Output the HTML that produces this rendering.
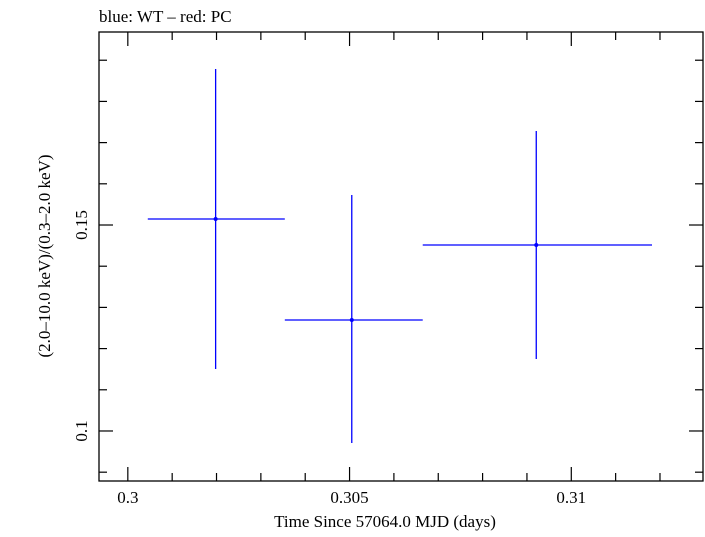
<!DOCTYPE html>
<html><head><meta charset="utf-8"><style>
body{margin:0;background:#fff;}
svg text{font-family:"Liberation Serif",serif;fill:#000;}
</style></head><body>
<svg id="chart" width="705" height="532" xmlns="http://www.w3.org/2000/svg">
<text x="99" y="22" font-size="17">blue: WT – red: PC</text>
<rect x="99" y="32" width="604" height="449" fill="none" stroke="#000" stroke-width="1.3"/>
<g id="ticks"></g>
<g id="marks"></g>
<text x="385" y="527" font-size="17" text-anchor="middle">Time Since 57064.0 MJD (days)</text>
<text transform="translate(50,256) rotate(-90)" font-size="17" text-anchor="middle">(2.0–10.0 keV)/(0.3–2.0 keV)</text>
</svg>
<script>
const xVals=[0.30198,0.30505,0.30921];
const xLo=[0.30045,0.30354,0.30665];
const xHi=[0.30354,0.30665,0.31182];
const yVals=[0.15146,0.12694,0.14515];
const yLo=[0.11505,0.09709,0.11748];
const yHi=[0.18786,0.15728,0.17282];
const xTickLabels=["0.3","0.305","0.31"];
const yTickLabels=["0.1","0.15"];
const X0=99,X1=703,Y0=32,Y1=481;
const xMin=0.29935,xMax=0.31297,yMin=0.08786,yMax=0.19685;
const sx=v=>X0+(v-xMin)/(xMax-xMin)*(X1-X0);
const sy=v=>Y1-(v-yMin)/(yMax-yMin)*(Y1-Y0);
const NS="http://www.w3.org/2000/svg";
function el(t,a,p){const e=document.createElementNS(NS,t);for(const k in a)e.setAttribute(k,a[k]);p.appendChild(e);return e;}
const tk=document.getElementById('ticks');
for(let i=0;i<=12;i++){const v=0.3+i*0.001;if(v>xMax)break;const x=sx(v);const L=(i%5==0)?14:8;
 let l=el('line',{x1:x,x2:x,y1:Y1,y2:Y1-L,stroke:'#000','stroke-width':1.2},tk);
 l=el('line',{x1:x,x2:x,y1:Y0,y2:Y0+L,stroke:'#000','stroke-width':1.2},tk);}
xTickLabels.forEach(s=>{const t=el('text',{x:sx(parseFloat(s)),y:503,'font-size':17,'text-anchor':'middle'},tk);t.textContent=s;});
for(let i=9;i<=19;i++){const v=i*0.01;const y=sy(v);const L=(i==10||i==15)?14:8;
 let l=el('line',{x1:X0,x2:X0+L,y1:y,y2:y,stroke:'#000','stroke-width':1.2},tk);
 l=el('line',{x1:X1,x2:X1-L,y1:y,y2:y,stroke:'#000','stroke-width':1.2},tk);}
yTickLabels.forEach(s=>{const y=sy(parseFloat(s));const t=el('text',{transform:`translate(87,${y}) rotate(-90)`,'font-size':17,'text-anchor':'middle'},tk);t.textContent=s;});
const mk=document.getElementById('marks');
xVals.forEach((v,i)=>{
 let h=el('line',{x1:sx(xLo[i]),x2:sx(xHi[i]),y1:sy(yVals[i]),y2:sy(yVals[i]),stroke:'#0000ff','stroke-width':1.3},mk);
 let w=el('line',{x1:sx(v),x2:sx(v),y1:sy(yLo[i]),y2:sy(yHi[i]),stroke:'#0000ff','stroke-width':1.3},mk);
 let c=el('circle',{cx:sx(v),cy:sy(yVals[i]),r:2,fill:'#0000ff'},mk);
});
</script>
</body></html>
